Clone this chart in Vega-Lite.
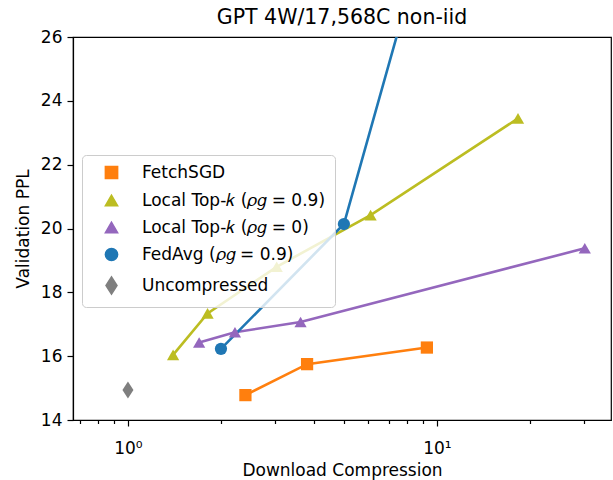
{
  "$schema": "https://vega.github.io/schema/vega-lite/v6.json",
  "width": 538,
  "height": 383,
  "autosize": "none",
  "padding": {"left": 73, "top": 37, "right": 2, "bottom": 60},
  "background": "white",
  "title": {"text": "GPT 4W/17,568C non-iid", "fontSize": 20.5, "fontWeight": "normal", "font": "DejaVu Sans", "color": "black", "offset": 0, "anchor": "middle"},
  "config": {
    "font": "DejaVu Sans",
    "view": {"stroke": "black", "strokeWidth": 1.2},
    "axis": {"grid": false, "domainColor": "black", "tickColor": "black", "labelColor": "black", "titleColor": "black", "labelFontSize": 17, "titleFontSize": 17, "titleFontWeight": "normal", "labelFont": "DejaVu Sans", "titleFont": "DejaVu Sans", "tickWidth": 1.2, "domainWidth": 1.2},
    "legend": {"labelFont": "DejaVu Sans", "labelLimit": 400}
  },
  "data": {"values": [
    {"series": "FetchSGD", "x": 2.40, "y": 14.78},
    {"series": "FetchSGD", "x": 3.80, "y": 15.75},
    {"series": "FetchSGD", "x": 9.28, "y": 16.27},
    {"series": "Local Top-𝑘 (𝜌𝑔 = 0.9)", "x": 1.40, "y": 16.04},
    {"series": "Local Top-𝑘 (𝜌𝑔 = 0.9)", "x": 1.81, "y": 17.34},
    {"series": "Local Top-𝑘 (𝜌𝑔 = 0.9)", "x": 3.03, "y": 18.8},
    {"series": "Local Top-𝑘 (𝜌𝑔 = 0.9)", "x": 6.10, "y": 20.42},
    {"series": "Local Top-𝑘 (𝜌𝑔 = 0.9)", "x": 18.3, "y": 23.45},
    {"series": "Local Top-𝑘 (𝜌𝑔 = 0)", "x": 1.70, "y": 16.43},
    {"series": "Local Top-𝑘 (𝜌𝑔 = 0)", "x": 2.22, "y": 16.75},
    {"series": "Local Top-𝑘 (𝜌𝑔 = 0)", "x": 3.62, "y": 17.07},
    {"series": "Local Top-𝑘 (𝜌𝑔 = 0)", "x": 30.1, "y": 19.38},
    {"series": "FedAvg (𝜌𝑔 = 0.9)", "x": 2.0, "y": 16.23},
    {"series": "FedAvg (𝜌𝑔 = 0.9)", "x": 5.0, "y": 20.14},
    {"series": "FedAvg (𝜌𝑔 = 0.9)", "x": 10.0, "y": 30.5},
    {"series": "Uncompressed", "x": 1.0, "y": 14.94}
  ]},
  "encoding": {
    "x": {"field": "x", "type": "quantitative",
      "scale": {"type": "log", "domain": [0.664, 36.6], "nice": false},
      "axis": {"title": "Download Compression", "values": [0.7, 0.8, 0.9, 1, 2, 3, 4, 5, 6, 7, 8, 9, 10, 20, 30],
        "labelExpr": "datum.value == 1 ? '10⁰' : (datum.value == 10 ? '10¹' : '')",
        "tickSize": {"condition": {"test": "datum.value == 1 || datum.value == 10", "value": 6}, "value": 3.5},
        "labelPadding": 14, "labelOverlap": false, "labelFlush": false, "titlePadding": 6}},
    "y": {"field": "y", "type": "quantitative",
      "scale": {"domain": [14, 26], "nice": false},
      "axis": {"title": "Validation PPL", "values": [14, 16, 18, 20, 22, 24, 26], "tickSize": 6, "labelPadding": 5, "titlePadding": 8}},
    "color": {"field": "series", "type": "nominal",
      "scale": {"domain": ["FetchSGD", "Local Top-𝑘 (𝜌𝑔 = 0.9)", "Local Top-𝑘 (𝜌𝑔 = 0)", "FedAvg (𝜌𝑔 = 0.9)", "Uncompressed"],
        "range": ["#ff7f0e", "#bcbd22", "#9467bd", "#1f77b4", "#7f7f7f"]},
      "legend": {"title": null, "orient": "none", "legendX": 9, "legendY": 118, "labelFontSize": 17, "labelColor": "black", "labelLimit": 400, "symbolSize": 150, "padding": 9, "rowPadding": 9, "fillColor": "rgba(255,255,255,0.8)", "strokeColor": "#cccccc", "cornerRadius": 4, "symbolOffset": 12, "labelOffset": 22}}
  },
  "layer": [
    {"mark": {"type": "line", "strokeWidth": 2.6, "clip": true}},
    {"mark": {"type": "point", "filled": true, "opacity": 1, "size": 150, "clip": true},
     "encoding": {
       "shape": {"field": "series", "type": "nominal",
         "scale": {"domain": ["FetchSGD", "Local Top-𝑘 (𝜌𝑔 = 0.9)", "Local Top-𝑘 (𝜌𝑔 = 0)", "FedAvg (𝜌𝑔 = 0.9)", "Uncompressed"],
           "range": ["square", "triangle-up", "triangle-up", "circle", "M0,-1.4L0.9,0L0,1.4L-0.9,0Z"]},
         "legend": {"title": null, "orient": "none", "legendX": 9, "legendY": 118, "labelFontSize": 17, "labelColor": "black", "labelLimit": 400, "symbolSize": 150, "padding": 9, "rowPadding": 9, "fillColor": "rgba(255,255,255,0.8)", "strokeColor": "#cccccc", "cornerRadius": 4, "symbolOffset": 12, "labelOffset": 22}}
     }}
  ]
}
